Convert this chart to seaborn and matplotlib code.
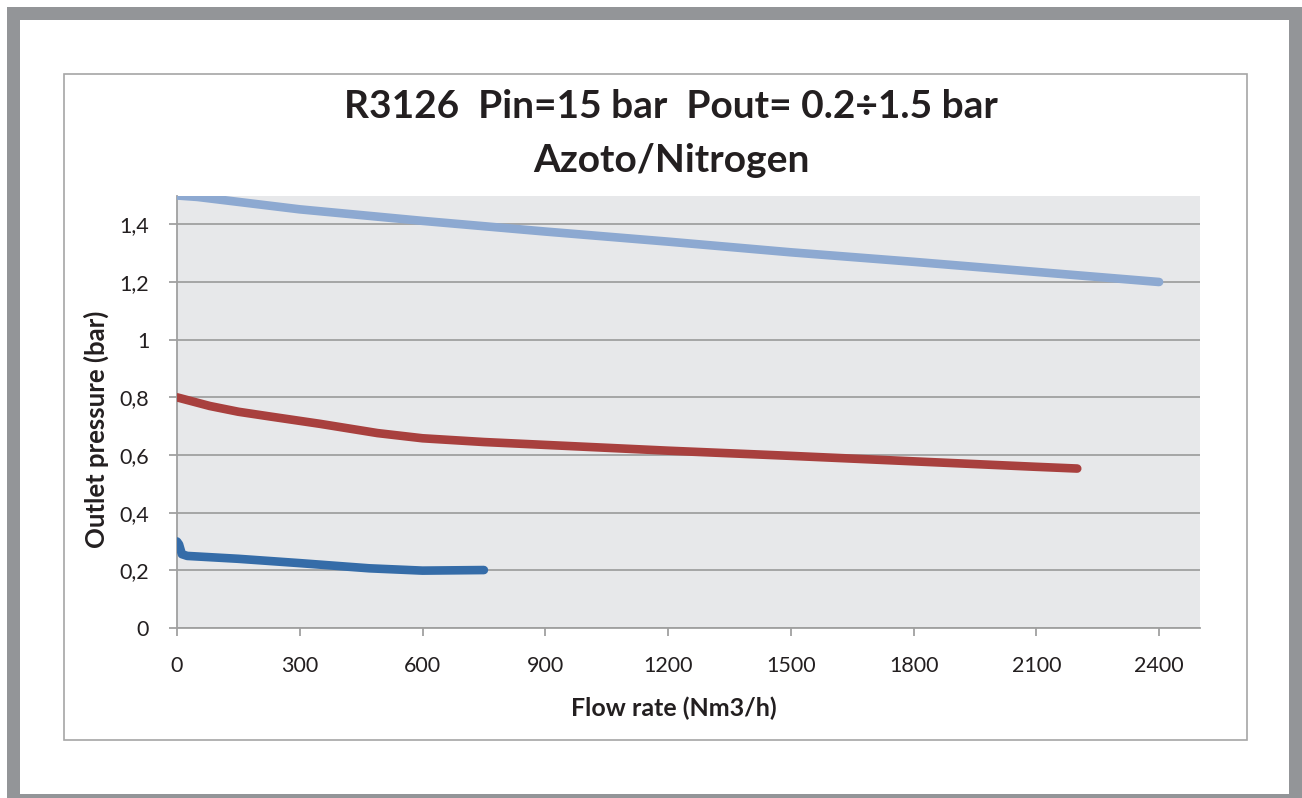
import numpy as np
import pandas as pd
import matplotlib
matplotlib.use("Agg")
import matplotlib.pyplot as plt
from matplotlib.patches import Rectangle
import seaborn as sns

# data
flow_high = [0, 50, 300, 600, 900, 1200, 1500, 1800, 2100, 2400]
p_high = [1.50, 1.495, 1.452, 1.412, 1.375, 1.34, 1.303, 1.27, 1.235, 1.20]

flow_mid = [0, 80, 150, 230, 350, 490, 600, 750, 900, 1200, 1500, 1800, 2100, 2200]
p_mid = [0.80, 0.77, 0.75, 0.733, 0.708, 0.676, 0.658, 0.645, 0.635, 0.615, 0.597, 0.578, 0.559, 0.553]

flow_low = [0, 5, 12, 25, 150, 300, 470, 600, 750]
p_low = [0.30, 0.29, 0.256, 0.25, 0.24, 0.225, 0.207, 0.199, 0.201]

x_ticks = [0, 300, 600, 900, 1200, 1500, 1800, 2100, 2400]
y_ticks = [0, 0.2, 0.4, 0.6, 0.8, 1.0, 1.2, 1.4]
y_labels = ["0", "0,2", "0,4", "0,6", "0,8", "1", "1,2", "1,4"]

colors = {"high": "#8DA9D1", "mid": "#A8403E", "low": "#356CA8"}

df = pd.concat([
    pd.DataFrame({"flow": flow_high, "p": p_high, "serie": "high"}),
    pd.DataFrame({"flow": flow_mid, "p": p_mid, "serie": "mid"}),
    pd.DataFrame({"flow": flow_low, "p": p_low, "serie": "low"}),
])

sns.set_theme(style="white")
plt.rcParams['font.family'] = ['Lato', 'DejaVu Sans']

W, H = 1302, 798
fig = plt.figure(figsize=(W / 100, H / 100), dpi=100)

# outer gray frame and inner box
fig.patches.append(Rectangle((7 / W, 0), 1, (H - 7) / H, transform=fig.transFigure,
                             facecolor="#939598", edgecolor="none", zorder=-3))
fig.patches.append(Rectangle((20 / W, 4 / H), (1289 - 20) / W, (794 - 20) / H,
                             transform=fig.transFigure, facecolor="white",
                             edgecolor="none", zorder=-2))
fig.patches.append(Rectangle((64 / W, (H - 740) / H), (1247 - 64) / W, (740 - 74) / H,
                             transform=fig.transFigure, facecolor="none",
                             edgecolor="#A6A6A6", linewidth=1.2, zorder=-1))

ax = fig.add_axes([177 / W, 1 - 628 / H, (1200 - 177) / W, (628 - 195.5) / H])
ax.set_facecolor("#E7E8EA")

sns.lineplot(data=df, x="flow", y="p", hue="serie", palette=colors, sort=False,
             estimator=None, linewidth=6.2, legend=False, ax=ax, zorder=3)
for line in ax.get_lines():
    line.set_solid_capstyle("round")
    line.set_solid_joinstyle("round")

ax.set_xlim(0, 2500)
ax.set_ylim(0, 1.5)
ax.set_xticks(x_ticks)
ax.set_xticklabels([str(v) for v in x_ticks])
ax.set_yticks(y_ticks)
ax.set_yticklabels(y_labels)

ax.grid(axis="y", color="#A0A0A0", linewidth=1.3)
ax.grid(axis="x", visible=False)
ax.set_axisbelow(True)
for s in ["top", "right"]:
    ax.spines[s].set_visible(False)
for s in ["left", "bottom"]:
    ax.spines[s].set_color("#A0A0A0")
    ax.spines[s].set_linewidth(1.3)

ax.tick_params(axis="both", direction="out", length=6, width=1.3, color="#A0A0A0",
               labelsize=15.5, labelcolor="#231F20")
ax.tick_params(axis="x", pad=14, bottom=True)
ax.tick_params(axis="y", pad=14, left=True)

ax.set_xlabel("Flow rate (Nm3/h)", fontsize=18, fontweight="bold", color="#231F20")
ax.set_ylabel("Outlet pressure (bar)", fontsize=18.5, fontweight="bold", color="#231F20")
ax.xaxis.set_label_coords(0.486, -0.158)
ax.yaxis.set_label_coords(-0.066, 0.46)

fig.text(671 / W, 1 - 107 / H, "R3126  Pin=15 bar  Pout= 0.2÷1.5 bar",
         ha="center", va="center", fontsize=28, fontweight="bold", color="#231F20")
fig.text(671 / W, 1 - 160 / H, "Azoto/Nitrogen",
         ha="center", va="center", fontsize=28, fontweight="bold", color="#231F20")

fig.savefig("out.png", dpi=100)
